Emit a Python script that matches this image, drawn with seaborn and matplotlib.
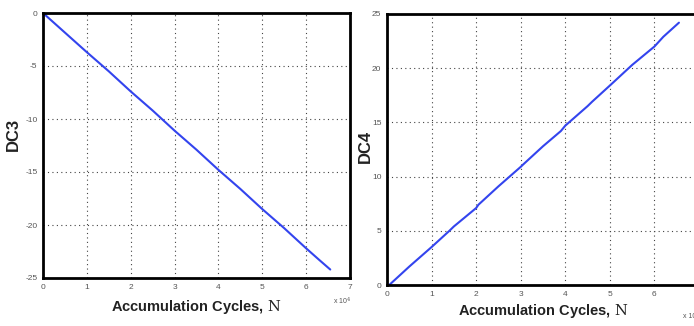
import matplotlib
matplotlib.use("Agg")
import matplotlib.pyplot as plt
import seaborn as sns
import pandas as pd

# cycles in units of 1e4
dc3_n = [0.0, 0.5, 1.0, 1.5, 2.0, 2.5, 3.0, 3.5, 4.0, 4.5, 5.0, 5.5, 6.0, 6.3, 6.55]
dc3_v = [0.0, -1.85, -3.7, -5.5, -7.4, -9.2, -11.1, -12.9, -14.8, -16.6, -18.5, -20.3, -22.2, -23.3, -24.2]

dc4_n = [0.05, 0.5, 1.0, 1.4, 1.5, 2.0, 2.05, 2.5, 3.0, 3.05, 3.5, 3.9, 4.0, 4.5, 4.6, 5.0, 5.5, 6.0, 6.2, 6.55]
dc4_v = [0.0, 1.7, 3.5, 5.0, 5.4, 7.1, 7.4, 9.1, 10.9, 11.1, 12.8, 14.2, 14.7, 16.5, 16.9, 18.4, 20.3, 22.0, 22.9, 24.2]

sns.set_style("white")
plt.rcParams["font.family"] = ["Liberation Sans", "DejaVu Sans"]
plt.rcParams["mathtext.fontset"] = "dejavuserif"
plt.rcParams["axes.unicode_minus"] = False

fig = plt.figure(figsize=(6.94, 3.26), dpi=100)
ax1 = fig.add_axes([43/694, 48/326, 307/694, 265/326])
ax2 = fig.add_axes([387/694, 41/326, 312/694, 271/326])

line_col = "#3344ee"
tick_col = "#555555"

df3 = pd.DataFrame({"N": dc3_n, "DC3": dc3_v})
df4 = pd.DataFrame({"N": dc4_n, "DC4": dc4_v})
sns.lineplot(data=df3, x="N", y="DC3", ax=ax1, color=line_col, linewidth=1.5)
sns.lineplot(data=df4, x="N", y="DC4", ax=ax2, color=line_col, linewidth=1.5)

ax1.set_xlim(0, 7)
ax1.set_ylim(-25, 0)
ax1.set_yticks([0, -5, -10, -15, -20, -25])
ax2.set_xlim(0, 7)
ax2.set_ylim(0, 25)
ax2.set_yticks([0, 5, 10, 15, 20, 25])

for ax, name, lp in [(ax1, "DC3", 5), (ax2, "DC4", 3)]:
    ax.set_xticks(range(8))
    ax.grid(True, linestyle=(0, (1, 3)), color="#444444", linewidth=0.8)
    for s in ax.spines.values():
        s.set_color("black")
        s.set_linewidth(2)
    ax.tick_params(axis="both", labelsize=6, labelcolor=tick_col, color="black",
                   length=2, width=0.6, pad=2)
    ax.set_xlabel("Accumulation Cycles, $\\mathrm{N}$", fontsize=10.5, fontweight="bold",
                  color="#222222", labelpad=lp)
    ax.set_ylabel(name, fontsize=12, fontweight="bold", color="#222222")

ax1.yaxis.set_label_coords(-0.072, 0.54)
ax2.yaxis.set_label_coords(-0.045, 0.51)

fig.text(333/694, 1 - 304/326, "x 10$^{4}$", fontsize=5, color=tick_col)
fig.text(683/694, 1 - 318/326, "x 10", fontsize=5, color=tick_col)

fig.savefig("out.png", dpi=100)
